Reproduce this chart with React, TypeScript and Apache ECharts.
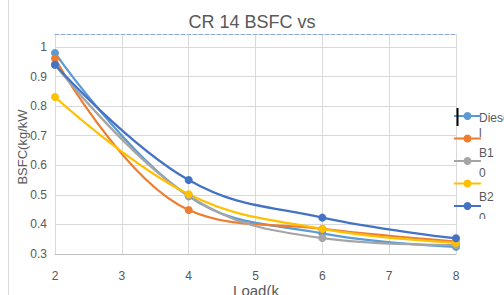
import React, { useEffect, useRef } from "react";
import * as echarts from "echarts";

const loads = [2, 4, 6, 8];
const seriesNames = ["Diesel", "B10", "B20", "B30", "B40"];
const diesel = [0.98, 0.495, 0.37, 0.324];
const b10 = [0.961, 0.449, 0.385, 0.342];
const b20 = [0.94, 0.497, 0.354, 0.33];
const b30 = [0.831, 0.502, 0.385, 0.338];
const b40 = [0.94, 0.55, 0.423, 0.353];
const seriesValues = [diesel, b10, b20, b30, b40];
const colors = ["#5B9BD5", "#ED7D31", "#A5A5A5", "#FFC000", "#4472C4"];
const xAxisName = "Load(k";
const yAxisName = "BSFC(kg/kW";

const FONT = "Liberation Sans, Arial, sans-serif";
const TXT = "#595959";

export default function App() {
  const ref = useRef<HTMLDivElement>(null);
  useEffect(() => {
    if (!ref.current) return;
    const chart = echarts.init(ref.current, undefined, { renderer: "svg" });
    chart.setOption({
      animation: false,
      backgroundColor: "#ffffff",
      textStyle: { fontFamily: FONT },
      title: {
        text: "CR 14 BSFC vs",
        left: "center",
        top: 8,
        textStyle: { fontFamily: FONT, fontSize: 18, fontWeight: "normal", color: TXT },
      },
      grid: { left: 55, right: 48, top: 34, bottom: 41, containLabel: false, outerBoundsMode: "none" },
      legend: {
        orient: "vertical",
        left: 448,
        top: 106,
        itemWidth: 27,
        itemHeight: 10,
        itemGap: 13.5,
        formatter: () => "",
        data: seriesNames,
      },
      xAxis: [
        {
          type: "value",
          min: 2,
          max: 8,
          interval: 1,
          axisLine: { show: true, lineStyle: { color: "#bfbfbf", width: 1 } },
          axisTick: { show: false },
          axisLabel: { margin: 16, fontSize: 12, color: TXT, fontFamily: FONT },
          splitLine: { show: true, lineStyle: { color: "#d9d9d9", width: 1 } },
        },
        {
          type: "value",
          position: "top",
          min: 2,
          max: 8,
          axisLine: { show: true, lineStyle: { color: "#8eaadb", width: 1, type: "dashed" } },
          axisTick: { show: false },
          axisLabel: { show: false },
          splitLine: { show: false },
        },
      ],
      yAxis: {
        type: "value",
        min: 0.3,
        max: 1.044,
        interval: 0.1,
        axisLine: { show: true, lineStyle: { color: "#d9d9d9" } },
        axisTick: { show: false },
        axisLabel: {
          margin: 8,
          fontSize: 12,
          color: TXT,
          fontFamily: FONT,
          showMaxLabel: false,
        },
        splitLine: { show: true, showMaxLine: false, lineStyle: { color: "#d9d9d9", width: 1 } },
      },
      series: seriesNames.map((name, i) => ({
        name,
        type: "line",
        xAxisIndex: 0,
        smooth: 0.4,
        symbol: "circle",
        symbolSize: 8,
        data: loads.map((x, j) => [x, seriesValues[i][j]]),
        lineStyle: { color: colors[i], width: 2.25 },
        itemStyle: { color: colors[i] },
      })),
      graphic: [
        { type: "line", shape: { x1: 8.5, y1: 0, x2: 8.5, y2: 295 }, style: { stroke: "#d9d9d9", lineWidth: 1 } },
        {
          type: "text",
          x: 22,
          y: 147,
          rotation: Math.PI / 2,
          style: { text: yAxisName, font: `13px ${FONT}`, fill: TXT, textAlign: "center", textVerticalAlign: "middle" },
        },
        {
          type: "text",
          x: 256,
          y: 290,
          style: { text: xAxisName, font: `15px ${FONT}`, fill: TXT, textAlign: "center", textVerticalAlign: "middle" },
        },
        {
          type: "text",
          left: 479,
          top: 110,
          style: { text: "Diesel", width: 31, overflow: "breakAll", lineHeight: 15, font: `12px ${FONT}`, fill: TXT },
        },
        {
          type: "text",
          left: 479,
          top: 143,
          style: { text: "B10", width: 16, overflow: "breakAll", lineHeight: 20, font: `12px ${FONT}`, fill: TXT },
        },
        {
          type: "text",
          left: 479,
          top: 186,
          style: { text: "B20", width: 16, overflow: "breakAll", lineHeight: 21, font: `12px ${FONT}`, fill: TXT },
        },
        { type: "rect", shape: { x: 476, y: 219, width: 28, height: 12 }, style: { fill: "#ffffff" }, z: 100 },
        { type: "line", shape: { x1: 457.5, y1: 108, x2: 457.5, y2: 126 }, style: { stroke: "#000000", lineWidth: 2 }, z: 100 },
      ],
    });
    return () => chart.dispose();
  }, []);
  return (
    <div
      ref={ref}
      style={{ position: "absolute", left: 0, top: 0, width: 504, height: 295 }}
    />
  );
}
